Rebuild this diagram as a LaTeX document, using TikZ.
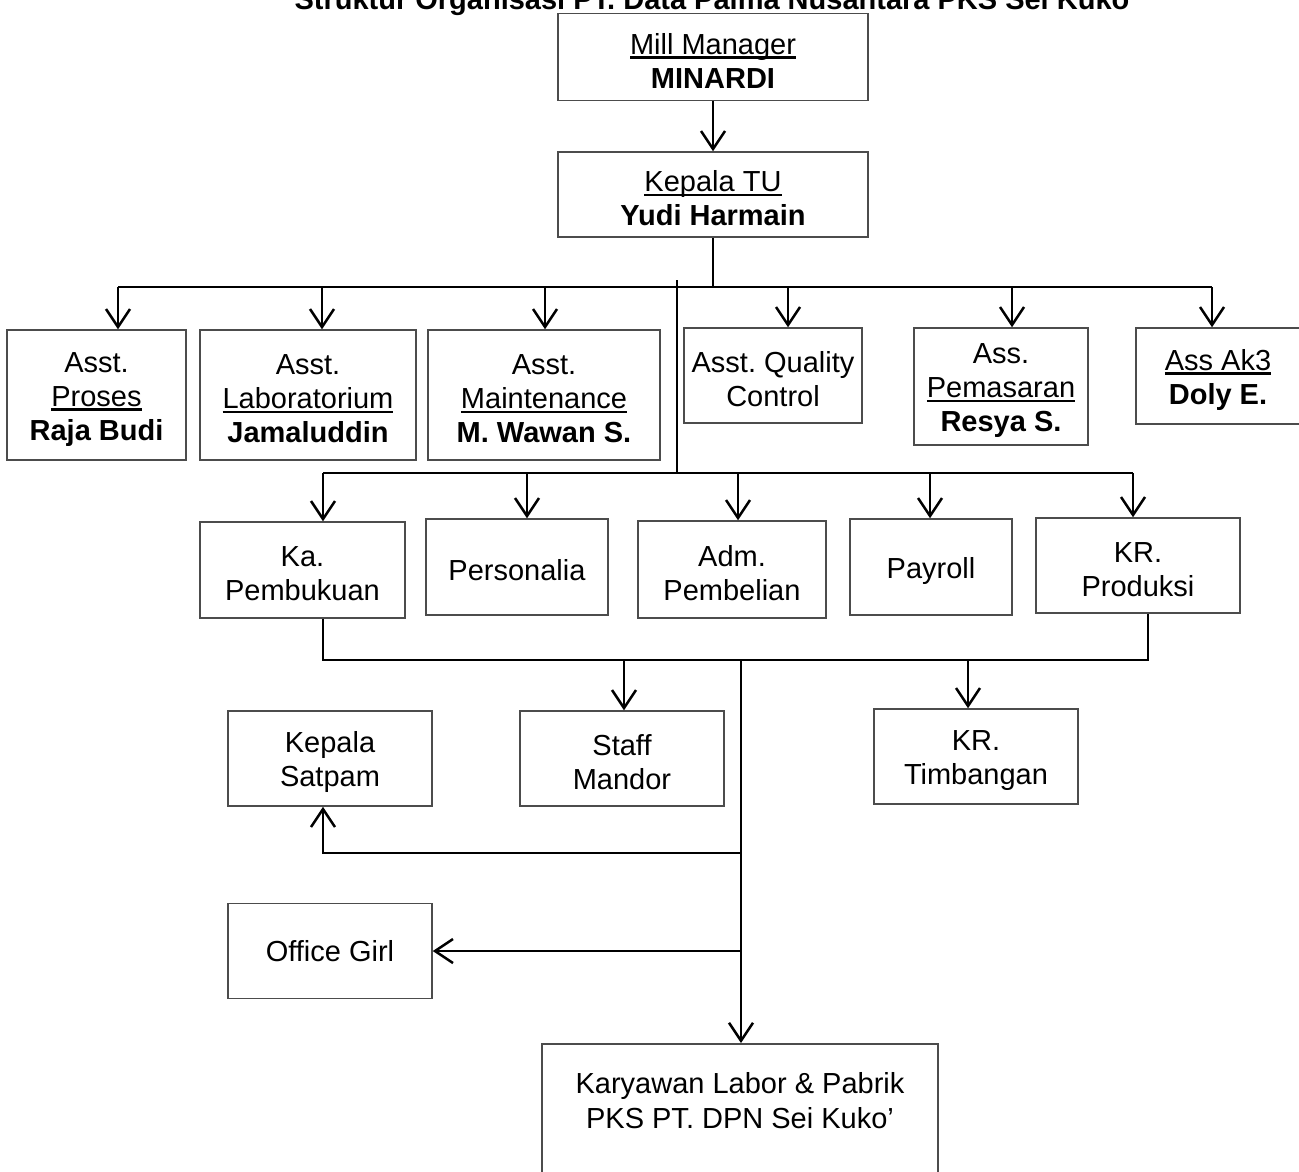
\documentclass[tikz,border=0pt]{standalone}
\usepackage{fontspec}
\setmainfont{Liberation Sans}
\usetikzlibrary{arrows.meta}
\frenchspacing
\newcommand{\ulw}[1]{\setbox0\hbox{#1}\rlap{\rule[-4.5pt]{\wd0}{2.2pt}}\box0}
\newcommand{\tst}{\rule{0pt}{28pt}}
\begin{document}
\begin{tikzpicture}[x=1pt,y=-1pt,
  box/.style={draw=black!70, line width=1.5pt, align=center, inner sep=0pt, font=\fontsize{29}{34}\selectfont},
  wire/.style={line width=2.5pt},
  arr/.style={wire, -{Straight Barb[length=18pt,width=24pt]}}]
\useasboundingbox (0,0) rectangle (1299,1171);
\node[font=\fontsize{29}{34}\selectfont\bfseries, anchor=base] (title) at (712,9) {Struktur Organisasi PT. Data Palma Nusantara PKS Sei Kuko};
% top
\node[box, minimum width=310pt, minimum height=87pt] (mm) at (713,57) {\tst\ulw{Mill Manager}\\\textbf{MINARDI}};
\node[box, minimum width=310pt, minimum height=85pt] (ktu) at (713,194.5) {\tst\ulw{Kepala TU}\\\textbf{Yudi Harmain}};
% row 1
\node[box, minimum width=179pt, minimum height=130pt] (proses) at (96.5,395) {\tst Asst.\\\ulw{Proses}\\\textbf{Raja Budi}};
\node[box, minimum width=216pt, minimum height=130pt] (lab) at (308,395) {\tst Asst.\\\ulw{Laboratorium}\\\textbf{Jamaluddin}};
\node[box, minimum width=232pt, minimum height=130pt] (maint) at (544,395) {\tst Asst.\\\ulw{Maintenance}\\\textbf{M. Wawan S.}};
\node[box, minimum width=178pt, minimum height=95pt] (qc) at (773,375.5) {\tst Asst. Quality\\Control};
\node[box, minimum width=174pt, minimum height=117pt] (pem) at (1001,386.5) {\tst Ass.\\\ulw{Pemasaran}\\\textbf{Resya S.}};
\node[box, minimum width=164pt, minimum height=96pt] (ak3) at (1218,376) {\tst\ulw{Ass Ak3}\\\textbf{Doly E.}};
% row 2
\node[box, minimum width=205pt, minimum height=96pt] (kpb) at (302.5,570) {\tst Ka.\\Pembukuan};
\node[box, minimum width=182pt, minimum height=96pt] (pers) at (517,567) {\tst Personalia};
\node[box, minimum width=188pt, minimum height=97pt] (adm) at (732,569.5) {\tst Adm.\\Pembelian};
\node[box, minimum width=162pt, minimum height=96pt] (pay) at (931,567) {\tst Payroll};
\node[box, minimum width=204pt, minimum height=95pt] (krp) at (1138,565.5) {\tst KR.\\Produksi};
% row 3
\node[box, minimum width=204pt, minimum height=95pt] (satpam) at (330,758.5) {\tst Kepala\\Satpam};
\node[box, minimum width=204pt, minimum height=95pt] (staff) at (622,758.5) {\tst Staff\\Mandor};
\node[box, minimum width=204pt, minimum height=95pt] (timb) at (976,756.5) {\tst KR.\\Timbangan};
\node[box, minimum width=204pt, minimum height=95pt] (og) at (330,951) {Office Girl};
\node[draw=black!70, line width=1.5pt, minimum width=396pt, minimum height=150pt, anchor=north] (kary) at (740,1043) {};
\node[font=\fontsize{29}{35}\selectfont, align=center, inner sep=0pt] (karytext) at (740,1101) {Karyawan Labor \& Pabrik\\PKS PT. DPN Sei Kuko’};
% connectors
\draw[arr] (mm.south) -- (ktu.north);
\coordinate (b1) at (713,287);
\draw[wire] (ktu.south) -- (b1);
\coordinate (t1) at (118,287);
\coordinate (t2) at (322,287);
\coordinate (t3) at (545,287);
\coordinate (t4) at (788,287);
\coordinate (t5) at (1012,287);
\coordinate (t6) at (1212,287);
\draw[wire] (t1) -- (t6);
\draw[arr] (t1) -- (t1 |- proses.north);
\draw[arr] (t2) -- (t2 |- lab.north);
\draw[arr] (t3) -- (t3 |- maint.north);
\draw[arr] (t4) -- (t4 |- qc.north);
\draw[arr] (t5) -- (t5 |- pem.north);
\draw[arr] (t6) -- (t6 |- ak3.north);
% second bus
\coordinate (v2) at (677,280);
\coordinate (b2) at (677,473);
\draw[wire] (v2) -- (b2);
\coordinate (s1) at (323,473);
\coordinate (s2) at (527,473);
\coordinate (s3) at (738,473);
\coordinate (s4) at (930,473);
\coordinate (s5) at (1133,473);
\draw[wire] (s1) -- (s5);
\draw[arr] (s1) -- (s1 |- kpb.north);
\draw[arr] (s2) -- (s2 |- pers.north);
\draw[arr] (s3) -- (s3 |- adm.north);
\draw[arr] (s4) -- (s4 |- pay.north);
\draw[arr] (s5) -- (s5 |- krp.north);
% third bus
\coordinate (u1) at (323,660);
\coordinate (u2) at (1148,660);
\draw[wire] (u1 |- kpb.south) -- (u1) -- (u2) -- (u2 |- krp.south);
\coordinate (u3) at (624,660);
\coordinate (u4) at (968,660);
\coordinate (u5) at (741,660);
\draw[arr] (u3) -- (u3 |- staff.north);
\draw[arr] (u4) -- (u4 |- timb.north);
\draw[arr] (u5) -- (u5 |- kary.north);
\coordinate (w1) at (741,853);
\coordinate (w2) at (323,853);
\draw[arr] (w1) -- (w2) -- (w2 |- satpam.south);
\coordinate (w3) at (741,951);
\draw[arr] (w3) -- (og.east);
\end{tikzpicture}
\end{document}
